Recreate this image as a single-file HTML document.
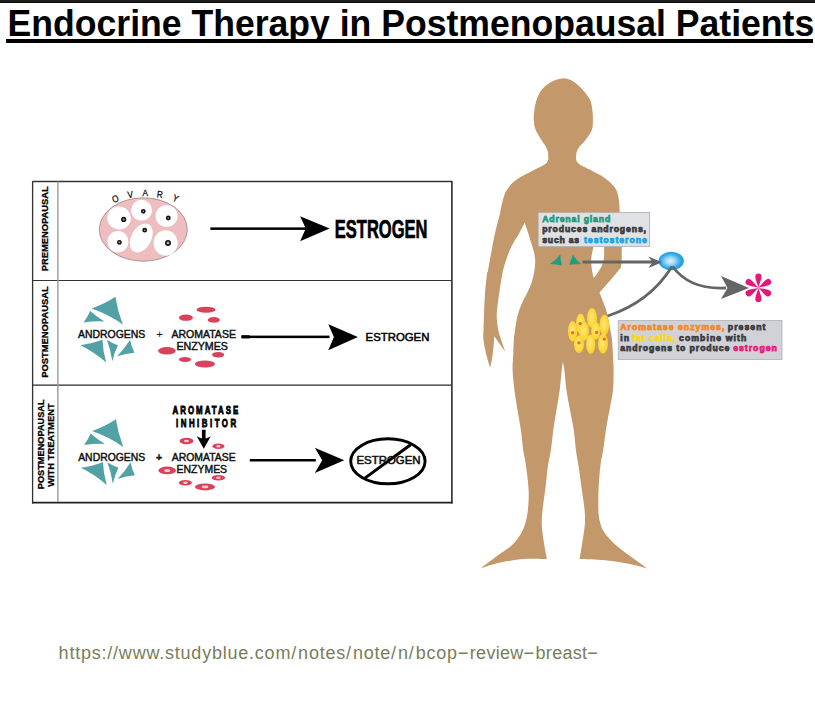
<!DOCTYPE html>
<html><head><meta charset="utf-8">
<style>
html,body{margin:0;padding:0;background:#fff;width:815px;height:713px;overflow:hidden;position:relative}
#bar{position:absolute;left:0;top:0;width:815px;height:2px;background:#1e1e1e;border-bottom:1px solid #0c0c0c}
#title{position:absolute;left:7.6px;top:5px;font:bold 35.6px/1 "Liberation Sans",sans-serif;color:#000;white-space:nowrap;transform:scaleY(1.06);transform-origin:0 0}
#tclip{position:absolute;left:0;top:0;width:815px;height:39px;overflow:hidden}
#ul{position:absolute;left:6.2px;top:38.9px;width:806.6px;height:3.9px;background:#000}
#url i,#url b{font-style:normal;font-weight:normal}
#url i{letter-spacing:1.9px}
#url b{letter-spacing:1.4px}
#url u{text-decoration:none;letter-spacing:0.3px}
#url{position:absolute;left:58.6px;top:644px;font:18px/1 "Liberation Sans",sans-serif;color:#787d5a;white-space:nowrap;letter-spacing:0.78px}
svg{position:absolute;left:0;top:0}
</style></head><body>
<div id="bar"></div>
<div id="tclip"><div id="title">Endocrine Therapy in Postmenopausal Patients</div></div>
<div id="ul"></div>
<svg width="815" height="713" viewBox="0 0 815 713" font-family="Liberation Sans, sans-serif">
<!-- TABLE -->
<g id="table">
  <line x1="32.6" y1="181.5" x2="452" y2="181.5" stroke="#333" stroke-width="1.3"/>
  <line x1="32.6" y1="181" x2="32.6" y2="503.5" stroke="#333" stroke-width="1.3"/>
  <line x1="451.9" y1="181" x2="451.9" y2="503.5" stroke="#2b2b2b" stroke-width="1.6"/>
  <line x1="32" y1="502.7" x2="452.5" y2="502.7" stroke="#222" stroke-width="1.8"/>
  <line x1="32.6" y1="280.5" x2="452" y2="280.5" stroke="#333" stroke-width="1.2"/>
  <line x1="32.6" y1="385.2" x2="452" y2="385.2" stroke="#2b2b2b" stroke-width="1.3"/>
  <line x1="57.9" y1="181.5" x2="57.9" y2="502" stroke="#9a9a9a" stroke-width="1.4"/>
  <!-- row labels -->
  <text transform="translate(48.3 271.3) rotate(-90)" font-weight="bold" font-size="9.3" stroke="#000" stroke-width="0.3" textLength="85" lengthAdjust="spacingAndGlyphs">PREMENOPAUSAL</text>
  <text transform="translate(48.3 377.8) rotate(-90)" font-weight="bold" font-size="9.3" stroke="#000" stroke-width="0.3" textLength="91.5" lengthAdjust="spacingAndGlyphs">POSTMENOPAUSAL</text>
  <text transform="translate(43.9 489.2) rotate(-90)" font-weight="bold" font-size="9.3" stroke="#000" stroke-width="0.3" textLength="89.8" lengthAdjust="spacingAndGlyphs">POSTMENOPAUSAL</text>
  <text transform="translate(53.9 486.8) rotate(-90)" font-weight="bold" font-size="9.3" stroke="#000" stroke-width="0.3" textLength="83.4" lengthAdjust="spacingAndGlyphs">WITH TREATMENT</text>
</g>
<!-- ROW 1: ovary -->
<g id="ovary">
  <ellipse cx="143.3" cy="229.5" rx="44" ry="31.7" fill="#eebdbf" stroke="#8c7777" stroke-width="0.7"/>
  <ellipse cx="119" cy="218" rx="11.8" ry="11.5" fill="#fff" transform="rotate(20 119 218)"/>
  <ellipse cx="141.6" cy="210.3" rx="10.5" ry="10.5" fill="#fff"/>
  <ellipse cx="166.6" cy="216" rx="11" ry="10.8" fill="#fff"/>
  <ellipse cx="118" cy="241.7" rx="10.5" ry="10.8" fill="#fff"/>
  <ellipse cx="141.3" cy="238" rx="10" ry="15.5" fill="#fff" transform="rotate(28 141.3 238)"/>
  <ellipse cx="165.6" cy="243" rx="12" ry="12.8" fill="#fff"/>
  <g fill="#aaa" stroke="#111" stroke-width="1.6">
    <circle cx="123.7" cy="219.4" r="1.8"/>
    <circle cx="143.3" cy="211.3" r="1.6"/>
    <circle cx="168.3" cy="218" r="1.6"/>
    <circle cx="119.4" cy="242.4" r="1.6"/>
    <circle cx="144.7" cy="230.2" r="1.6"/>
    <circle cx="168" cy="243" r="2.2"/>
  </g>
  <g font-size="9.6" fill="#111" stroke="#111" stroke-width="0.3" text-anchor="middle">
    <text transform="translate(115.3 198.7) rotate(-20) scale(0.85 1)" y="3.5">O</text>
    <text transform="translate(130.3 194.3) rotate(-8) scale(0.85 1)" y="3.5">V</text>
    <text transform="translate(145.2 192.8) rotate(0) scale(0.85 1)" y="3.5">A</text>
    <text transform="translate(160.0 194.3) rotate(8) scale(0.85 1)" y="3.5">R</text>
    <text transform="translate(175.6 198.1) rotate(24) scale(0.85 1)" y="3.5">Y</text>
  </g>
</g>
<!-- arrows -->
<g fill="#000">
  <rect x="210.3" y="227.4" width="96" height="2.5"/>
  <path d="M329.6 228.5 L300.1 216.3 L305.8 228.5 L300.1 241.2 Z"/>
  <text x="334.8" y="238.4" font-weight="bold" font-size="25.6" stroke="#000" stroke-width="0.7" textLength="92.6" lengthAdjust="spacingAndGlyphs">ESTROGEN</text>

  <rect x="241.5" y="335.6" width="88" height="2.5"/><rect x="241.5" y="335.2" width="8" height="3.2"/>
  <path d="M357.9 336.9 L328.3 324.2 L333.9 336.9 L328.3 350.2 Z"/>
  <text x="365.6" y="340.7" font-weight="normal" stroke="#000" stroke-width="0.5" font-size="11.4" textLength="63.8" lengthAdjust="spacingAndGlyphs">ESTROGEN</text>

  <rect x="249.8" y="459" width="66" height="2.5"/>
  <path d="M344.3 460.2 L314.8 447.7 L322.2 460.2 L314.8 472.9 Z"/>
</g>
<!-- crossed estrogen -->
<g>
  <ellipse cx="387.9" cy="461.3" rx="37.2" ry="22.5" fill="none" stroke="#000" stroke-width="2.9"/>
  <text x="356.4" y="463.9" font-weight="normal" stroke="#111" stroke-width="0.5" font-size="10" textLength="64.2" lengthAdjust="spacingAndGlyphs" fill="#111">ESTROGEN</text>
  <line x1="365.2" y1="477.9" x2="410.6" y2="444.7" stroke="#000" stroke-width="3"/>
</g>
<!-- androgens row2 -->
<g id="andro" fill="#52a1a5">
  <path d="M91.5 308.5 Q104.6 304.0 115.4 296.8 Q117.5 310.5 122.8 324.4 Q108.1 314.2 91.5 308.5 Z"/>
  <path d="M83.5 322.6 Q87.6 317.0 90.2 311.0 Q96.4 316.6 104.4 321.4 Q93.6 320.9 83.5 322.6 Z"/>
  <path d="M80.4 345.3 Q92.3 343.7 102.5 339.8 Q102.8 350.8 106.2 362.5 Q94.4 352.2 80.4 345.3 Z"/>
  <path d="M106.8 339.8 Q112.3 343.3 117.9 345.3 Q114.5 352.3 112.3 361.3 Q110.6 349.9 106.8 339.8 Z"/>
  <path d="M117.2 356.3 Q124.8 348.5 130.1 339.8 Q131.4 346.8 134.4 352.7 Q126.1 353.3 117.2 356.3 Z"/>
</g>
<use href="#andro" transform="translate(0.5 122.5)"/>
<g font-weight="bold" fill="#111">
  <text x="78" y="337.7" font-size="10.6" font-weight="normal" stroke="#111" stroke-width="0.45" textLength="67.2" lengthAdjust="spacingAndGlyphs">ANDROGENS</text>
  <text x="78.2" y="460.6" font-size="10.6" font-weight="normal" stroke="#111" stroke-width="0.45" textLength="67" lengthAdjust="spacingAndGlyphs">ANDROGENS</text>
  <text x="159.5" y="337.8" font-size="11.5" text-anchor="middle" font-weight="normal">+</text>
  <text x="159.1" y="460.5" font-size="10.5" text-anchor="middle" stroke="#111" stroke-width="0.4">+</text>
  <text x="171.5" y="337.7" font-size="10.6" font-weight="normal" stroke="#111" stroke-width="0.45" textLength="64.4" lengthAdjust="spacingAndGlyphs">AROMATASE</text>
  <text x="176.4" y="349.6" font-size="10.6" font-weight="normal" stroke="#111" stroke-width="0.45" textLength="51.5" lengthAdjust="spacingAndGlyphs">ENZYMES</text>
  <text x="171.7" y="460.9" font-size="10.6" font-weight="normal" stroke="#111" stroke-width="0.45" textLength="63.9" lengthAdjust="spacingAndGlyphs">AROMATASE</text>
  <text x="176.6" y="472.8" font-size="10.6" font-weight="normal" stroke="#111" stroke-width="0.45" textLength="50.5" lengthAdjust="spacingAndGlyphs">ENZYMES</text>
  <text transform="translate(172.6 413.9) scale(0.68 1)" font-size="11.6" textLength="96.5" lengthAdjust="spacing" fill="#000" stroke="#000" stroke-width="0.85">AROMATASE</text>
  <text transform="translate(176.1 426.6) scale(0.68 1)" font-size="11.6" textLength="88.3" lengthAdjust="spacing" fill="#000" stroke="#000" stroke-width="0.85">INHIBITOR</text>
</g>
<!-- down arrow -->
<path d="M201.9 429.8 L205.6 429.8 L205.6 438.6 Q208.2 437.4 210.8 436.2 Q207.5 442 203.8 448.8 Q200 442 196.8 436.2 Q199.4 437.4 201.9 438.6 Z" fill="#000"/>
<!-- enzymes -->
<g fill="#da415a">
  <ellipse cx="206" cy="309.7" rx="9.5" ry="3"/>
  <ellipse cx="185.9" cy="317.7" rx="7" ry="3.1"/>
  <ellipse cx="213.8" cy="319.9" rx="6.1" ry="2.8"/>
  <ellipse cx="166.9" cy="350.8" rx="8.9" ry="3.7"/>
  <ellipse cx="218.1" cy="354.8" rx="6.1" ry="2.8"/>
  <ellipse cx="185" cy="359.4" rx="6.1" ry="2.5"/>
  <ellipse cx="204.9" cy="364" rx="10.1" ry="3.4"/>

  <ellipse cx="186.5" cy="441" rx="7" ry="3.2"/>
  <ellipse cx="218.4" cy="446.2" rx="6" ry="2.8"/>
  <ellipse cx="167.2" cy="470.4" rx="8.8" ry="3.9"/>
  <ellipse cx="218.4" cy="477.8" rx="6.7" ry="2.8"/>
  <ellipse cx="185.4" cy="482.7" rx="6.6" ry="2.8"/>
  <ellipse cx="205" cy="486.9" rx="10.1" ry="3.5"/>
</g>
<g fill="#f3c9cd">
  <ellipse cx="186.5" cy="441" rx="2.5" ry="1.3"/>
  <ellipse cx="218.4" cy="446.2" rx="2.2" ry="1.2"/>
  <ellipse cx="167.2" cy="470.4" rx="3" ry="1.5"/>
  <ellipse cx="218.4" cy="477.8" rx="2.3" ry="1.2"/>
  <ellipse cx="185.4" cy="482.7" rx="2.3" ry="1.2"/>
  <ellipse cx="205" cy="486.9" rx="3.4" ry="1.4"/>
</g>

<!-- BODY -->
<path id="body" fill="#c3986a" d="M621 267.4 C619.4 269.3 614.6 275.2 611.6 278.7 C608.6 282.2 605.1 286.2 603.1 288.5 C601.1 290.8 600.1 291.8 599.5 292.5 C600.1 293.9 601.7 297.9 602.9 301.2 C604.1 304.5 605.9 308.7 606.9 312.4 C607.9 316.1 608.4 319.9 609.1 323.6 C609.8 327.3 610.7 331.1 611.3 334.8 C611.9 338.5 612.2 342.2 612.5 346.0 C612.8 349.8 612.8 353.3 613.0 357.3 C613.2 361.3 613.6 364.6 613.6 370.0 C613.6 375.4 613.7 383.3 613.0 390.0 C612.3 396.7 610.7 403.3 609.5 410.0 C608.3 416.7 606.9 423.3 605.9 430.0 C604.9 436.7 604.1 444.2 603.2 450.0 C602.3 455.8 601.2 459.2 600.5 465.0 C599.8 470.8 599.2 478.3 598.8 485.0 C598.4 491.7 598.2 499.2 598.3 505.0 C598.4 510.8 598.5 515.5 599.5 520.0 C600.5 524.5 601.3 527.8 604.0 532.0 C606.7 536.2 611.4 541.0 615.7 545.0 C620.0 549.0 624.8 552.1 630.0 556.0 C635.2 559.9 644.3 566.3 647.2 568.4 C644.1 567.6 635.5 565.1 628.5 563.8 C621.5 562.4 613.4 561.1 605.2 560.3 C597.1 559.5 583.9 559.3 579.6 559.1 C580.0 556.8 581.0 550.7 581.9 545.0 C582.8 539.3 584.3 530.8 584.8 525.0 C585.2 519.2 585.1 515.8 584.6 510.0 C584.1 504.2 582.9 497.5 581.9 490.0 C580.9 482.5 579.4 471.7 578.4 465.0 C577.4 458.3 576.7 455.8 575.9 450.0 C575.1 444.2 574.8 436.7 573.8 430.0 C572.8 423.3 571.2 416.7 570.0 410.0 C568.8 403.3 567.3 396.7 566.4 390.0 C565.5 383.3 565.0 374.7 564.4 370.0 C563.8 365.3 563.1 363.2 562.9 361.9 C562.7 363.2 562.2 365.3 561.7 370.0 C561.2 374.7 560.6 383.3 559.7 390.0 C558.8 396.7 557.6 403.3 556.5 410.0 C555.4 416.7 554.2 423.3 553.3 430.0 C552.4 436.7 551.8 444.2 550.9 450.0 C550.0 455.8 549.0 459.2 548.1 465.0 C547.2 470.8 546.7 477.5 545.8 485.0 C544.9 492.5 543.3 503.3 542.6 510.0 C541.9 516.7 541.6 519.7 541.8 525.0 C542.0 530.3 542.9 536.3 543.8 542.0 C544.6 547.7 546.4 556.2 546.9 559.1 C543.0 559.1 531.4 558.5 523.6 559.1 C515.8 559.7 507.5 561.1 500.3 562.6 C493.1 564.1 483.8 567.4 480.5 568.4 C483.2 566.3 491.9 559.7 497.0 556.0 C502.1 552.3 507.2 549.3 511.0 546.0 C514.8 542.7 517.2 539.5 519.5 536.0 C521.8 532.5 523.4 529.3 524.8 525.0 C526.2 520.7 527.3 515.8 527.9 510.0 C528.5 504.2 528.9 497.5 528.6 490.0 C528.3 482.5 526.8 471.7 525.9 465.0 C525.0 458.3 524.0 455.8 523.2 450.0 C522.4 444.2 521.9 436.7 520.9 430.0 C519.9 423.3 518.6 416.7 517.5 410.0 C516.4 403.3 515.2 396.7 514.4 390.0 C513.6 383.3 512.8 375.8 512.6 370.0 C512.4 364.2 513.0 360.2 513.2 355.0 C513.4 349.8 513.6 343.2 513.9 339.0 C514.2 334.8 514.7 332.8 515.1 329.7 C515.5 326.6 515.9 323.6 516.5 320.6 C517.1 317.6 517.8 314.6 518.8 311.5 C519.8 308.4 521.0 305.4 522.4 302.3 C523.8 299.2 525.5 296.4 527.0 293.2 C528.5 290.0 530.3 286.5 531.5 283.0 C532.7 279.5 533.6 275.7 534.2 272.0 C534.8 268.3 535.3 264.0 535.2 260.6 C535.1 257.2 534.5 254.6 533.8 251.5 C533.1 248.4 531.9 245.4 531.0 242.3 C530.1 239.2 529.3 236.5 528.3 233.2 C527.2 229.9 525.3 224.4 524.7 222.7 C523.8 224.4 521.0 229.9 519.2 233.2 C517.4 236.5 515.4 239.2 513.7 242.3 C512.0 245.4 510.5 248.4 509.2 251.5 C507.9 254.6 507.0 257.6 506.0 260.6 C505.0 263.6 503.9 266.8 503.2 269.7 C502.5 272.6 502.3 274.1 501.6 278.0 C500.9 281.9 500.0 287.6 499.2 293.2 C498.4 298.8 497.3 306.9 496.9 311.5 C496.5 316.1 496.8 317.6 497.0 320.6 C497.2 323.6 497.6 326.8 498.2 329.7 C498.8 332.6 499.3 334.2 500.5 338.0 C501.7 341.8 504.7 349.9 505.5 352.3 C504.6 351.0 502.1 347.3 500.2 344.6 C498.3 341.9 495.3 337.6 494.3 336.2 C494.2 337.8 494.0 342.0 493.6 346.0 C493.2 350.0 492.4 356.5 491.8 360.1 C491.2 363.7 490.4 366.5 490.1 367.8 C489.4 365.3 487.0 357.8 485.9 353.0 C484.8 348.2 483.8 342.9 483.4 339.0 C483.0 335.1 483.4 334.3 483.5 329.7 C483.6 325.1 483.9 317.6 484.1 311.5 C484.4 305.4 484.5 299.3 485.0 293.2 C485.5 287.1 486.4 278.9 486.9 275.0 C487.4 271.1 487.4 273.6 488.2 269.7 C488.9 265.8 490.3 257.6 491.4 251.5 C492.5 245.4 493.6 239.3 495.0 233.2 C496.4 227.1 498.3 220.5 499.6 215.0 C500.9 209.5 501.7 204.2 502.9 200.0 C504.1 195.8 504.6 193.3 506.8 190.0 C509.0 186.7 511.6 183.2 516.0 180.0 C520.4 176.8 527.9 173.3 533.0 170.5 C538.1 167.7 544.0 165.6 546.5 163.0 C549.0 160.4 548.2 157.5 548.2 155.0 C548.2 152.5 547.6 150.5 546.5 148.0 C545.4 145.5 543.3 143.0 541.5 140.0 C539.7 137.0 537.0 133.3 535.7 130.0 C534.4 126.7 534.0 123.3 533.8 120.0 C533.6 116.7 533.9 113.3 534.4 110.0 C534.9 106.7 535.4 103.3 536.6 100.0 C537.8 96.7 539.1 93.0 541.5 90.0 C543.9 87.0 547.6 83.9 551.0 82.0 C554.4 80.1 558.4 78.6 562.0 78.4 C565.6 78.2 569.0 79.1 572.5 81.0 C576.0 82.9 580.0 86.8 582.9 90.0 C585.8 93.2 588.5 96.7 590.1 100.0 C591.7 103.3 591.8 106.7 592.3 110.0 C592.8 113.3 593.0 116.7 592.9 120.0 C592.8 123.3 593.0 126.7 591.8 130.0 C590.6 133.3 587.7 137.0 585.5 140.0 C583.3 143.0 580.0 145.5 578.5 148.0 C577.0 150.5 576.3 152.5 576.2 155.0 C576.1 157.5 575.5 160.4 578.0 163.0 C580.5 165.6 587.2 168.2 591.4 170.5 C595.6 172.8 600.0 174.8 603.2 176.9 C606.4 179.0 608.3 180.6 610.5 182.8 C612.7 185.0 614.9 187.1 616.3 190.0 C617.7 192.9 618.3 196.3 618.9 200.0 C619.5 203.7 619.4 206.2 619.8 212.0 C620.2 217.8 620.9 229.2 621.2 235.0 C621.5 240.8 621.6 243.1 621.7 247.1 C621.8 251.1 621.8 255.6 621.7 259.0 C621.6 262.4 621.1 266.0 621.0 267.4 Z"/>
<!-- right arm gap -->
<path fill="#fff" d="M594.8 234 C594.5 236.2 593.9 242.9 593.3 247.1 C592.7 251.3 591.4 255.3 591.2 259.0 C591.0 262.7 591.5 266.3 591.9 269.5 C592.3 272.7 593.4 276.6 593.7 278.0 C594.3 277.2 596.2 275.0 597.5 273.0 C598.8 271.0 600.7 268.3 601.7 266.0 C602.8 263.7 603.4 262.1 603.8 259.0 C604.2 255.8 604.2 251.3 604.2 247.1 C604.2 242.9 603.7 236.2 603.6 234.0 Z"/>

<!-- fat cells -->
<defs><radialGradient id="fg" cx="0.45" cy="0.45" r="0.6"><stop offset="0" stop-color="#fee780"/><stop offset="0.6" stop-color="#fcd93f"/><stop offset="1" stop-color="#f8cd2a"/></radialGradient></defs>
<g fill="url(#fg)">
  <ellipse cx="592" cy="318.1" rx="5" ry="10"/>
  <ellipse cx="604.4" cy="325" rx="4.8" ry="10.3"/>
  <ellipse cx="580.6" cy="323.6" rx="4.6" ry="10"/>
  <ellipse cx="572.6" cy="331.3" rx="4.6" ry="10.3"/>
  <ellipse cx="584" cy="331.1" rx="5" ry="9.7"/>
  <ellipse cx="595.8" cy="330.7" rx="4.6" ry="8.8"/>
  <ellipse cx="579" cy="344.2" rx="5" ry="8.8"/>
  <ellipse cx="590.7" cy="344.2" rx="4.6" ry="9.7"/>
  <ellipse cx="603" cy="343.8" rx="5" ry="10"/>
</g>
<g fill="#ee6a2c">
  <circle cx="572.6" cy="332.8" r="1.7"/>
  <circle cx="580.2" cy="323.6" r="1.7"/>
  <circle cx="578.9" cy="342.9" r="1.7"/>
  <circle cx="596.6" cy="332.4" r="1.7"/>
  <circle cx="604.2" cy="339.1" r="1.7"/>
</g>

<!-- adrenal triangles -->
<g fill="#1f9d7c">
  <path d="M549.9 264 Q556 260 560.3 254.4 Q560.5 260 561.9 265.6 Q556 264 549.9 264 Z"/>
  <path d="M569 264.8 Q571 260 573 254.4 Q576 260 581 264 Q575 264 569 264.8 Z"/>
</g>

<!-- label 1 -->
<rect x="538.2" y="212.6" width="111.4" height="33.8" fill="#e0e1e4" stroke="#b3b3b5" stroke-width="0.9"/>
<g font-weight="bold" font-size="8.7" stroke-width="0.75" lengthAdjust="spacing">
  <text x="542.2" y="221.5" fill="#1e9c7c" stroke="#1e9c7c" textLength="68" lengthAdjust="spacing">Adrenal gland</text>
  <text x="542.2" y="232.3" fill="#3b3c3e" stroke="#3b3c3e" textLength="103.8" lengthAdjust="spacing">produces androgens,</text>
  <text x="542.2" y="243.3" fill="#3b3c3e" stroke="#3b3c3e" textLength="37" lengthAdjust="spacing">such as</text>
  <text x="584" y="243.3" fill="#1ba3e3" stroke="#1ba3e3" textLength="62.8" lengthAdjust="spacing">testosterone</text>
</g>

<!-- blue ellipse -->
<defs>
  <radialGradient id="bg" cx="0.47" cy="0.5" r="0.55">
    <stop offset="0" stop-color="#e2f3fb"/>
    <stop offset="0.3" stop-color="#a9dbf4"/>
    <stop offset="0.75" stop-color="#2aa6e3"/>
    <stop offset="1" stop-color="#1b9fe1"/>
  </radialGradient>
</defs>
<ellipse cx="671.2" cy="261" rx="12.7" ry="9.2" fill="url(#bg)"/>
<!-- gray arrows -->
<g stroke="#646567" stroke-width="2.8" fill="none">
  <line x1="582.6" y1="262" x2="653" y2="262"/>
  <path d="M607.6 316 Q650 302 672 266.5"/>
  <path d="M672.5 266.5 Q690 290 726 288"/>
</g>
<g fill="#646567">
  <path d="M662 262.2 L648.5 256.4 L652.5 262.2 L648.5 267.9 Z"/>
  <path d="M749 288 L721 276 L727.5 288 L721 299 Z"/>
</g>
<!-- asterisk -->
<g fill="#e6177b" transform="translate(758.4 287.7)">
  <path id="pet" d="M0 0 C-0.6 -3.5 -3.1 -7.5 -3.1 -11.2 A3.1 3.1 0 0 1 3.1 -11.2 C3.1 -7.5 0.6 -3.5 0 0 Z"/>
  <use href="#pet" transform="rotate(60)"/>
  <use href="#pet" transform="rotate(120)"/>
  <use href="#pet" transform="rotate(180)"/>
  <use href="#pet" transform="rotate(240)"/>
  <use href="#pet" transform="rotate(300)"/>
</g>

<!-- label 2 -->
<rect x="618.2" y="320.6" width="163.8" height="38.9" fill="#d0d2d7" stroke="#aeb0b4" stroke-width="0.8"/>
<g font-weight="bold" font-size="8.7" stroke-width="0.75">
  <text x="620.2" y="329.7" fill="#f7891f" stroke="#f7891f" textLength="104.2" lengthAdjust="spacing">Aromatase enzymes,</text>
  <text x="727.8" y="329.7" fill="#3c3d40" stroke="#3c3d40" textLength="37.6" lengthAdjust="spacing">present</text>
  <text x="620.2" y="340.6" fill="#3c3d40" stroke="#3c3d40" textLength="8.8" lengthAdjust="spacing">in</text>
  <text x="632.3" y="340.6" fill="#f8d81e" stroke="#f8d81e" textLength="43" lengthAdjust="spacing">fat cells,</text>
  <text x="679" y="340.6" fill="#3c3d40" stroke="#3c3d40" textLength="67.4" lengthAdjust="spacing">combine with</text>
  <text x="620.2" y="351.2" fill="#3c3d40" stroke="#3c3d40" textLength="109.2" lengthAdjust="spacing">androgens to produce</text>
  <text x="733.2" y="351.2" fill="#e5207b" stroke="#e5207b" textLength="43.6" lengthAdjust="spacing">estrogen</text>
</g>
</svg>
<div id="url">https://www.studyblue.com<i>/</i>notes<i>/</i>note<i>/</i>n<i>/</i>bcop<b>&#8722;</b><u>review</u><b>&#8722;</b><u>breast</u>&#8722;</div>
</body></html>
